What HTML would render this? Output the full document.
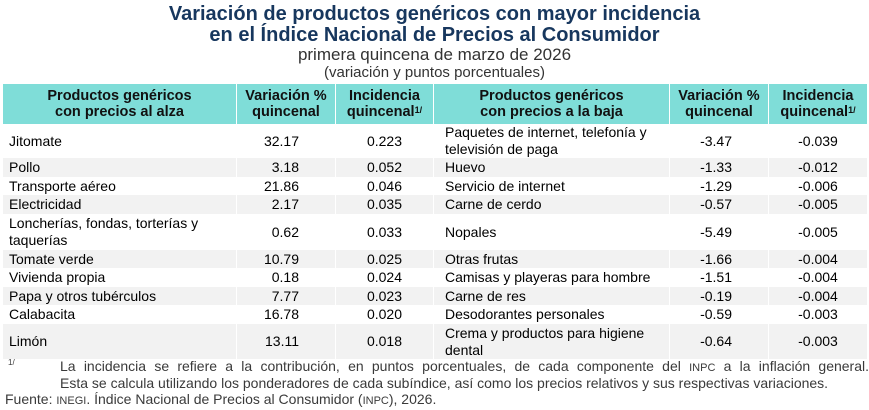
<!DOCTYPE html>
<html>
<head>
<meta charset="utf-8">
<style>
  html, body { margin:0; padding:0; }
  body { width:869px; height:408px; position:relative; overflow:hidden; background:#fff;
         font-family:"Liberation Sans", Arial, sans-serif; color:#000; }
  .t { position:absolute; left:0; width:869px; text-align:center; white-space:nowrap; }
  #title { top:4px; font-size:20px; line-height:21px; font-weight:bold; color:#17375e; }
  #sub1 { top:45px; font-size:17px; line-height:20px; color:#333; }
  #sub2 { top:64px; font-size:15px; line-height:18px; color:#333; }
  table { position:absolute; left:2px; top:84px; border-collapse:collapse; table-layout:fixed; width:865px; }
  td, th { padding:0; font-size:14px; line-height:17px; border-left:1px solid #fff; border-right:1px solid #fff; overflow:hidden; }
  th { background:#7fddd8; font-weight:bold; height:40px; line-height:16px; font-size:14.5px; text-align:center; color:#111; }
  th sup { font-size:9px; vertical-align:top; position:relative; top:-2px; }
  tr.g td { background:#f2f2f2; }
  td.n1 { padding-left:6px; text-align:left; }
  td.n2 { padding-left:11px; text-align:left; }
  td.v { text-align:right; padding-right:36px; }
  td.c { text-align:center; }
  .fn { position:absolute; font-size:14px; line-height:17px; color:#3a3a3a; white-space:nowrap; }
  .sc { font-size:11px; }
</style>
</head>
<body>
<div class="t" id="title">Variación de productos genéricos con mayor incidencia<br>en el Índice Nacional de Precios al Consumidor</div>
<div class="t" id="sub1">primera quincena de marzo de 2026</div>
<div class="t" id="sub2">(variación y puntos porcentuales)</div>

<table>
  <colgroup>
    <col style="width:234px"><col style="width:99px"><col style="width:98px">
    <col style="width:236px"><col style="width:99px"><col style="width:99px">
  </colgroup>
  <tr>
    <th>Productos genéricos<br>con precios al alza</th>
    <th>Variación %<br>quincenal</th>
    <th>Incidencia<br>quincenal<sup>1/</sup></th>
    <th>Productos genéricos<br>con precios a la baja</th>
    <th>Variación %<br>quincenal</th>
    <th>Incidencia<br>quincenal<sup>1/</sup></th>
  </tr>
  <tr style="height:34px">
    <td class="n1">Jitomate</td><td class="v">32.17</td><td class="c">0.223</td>
    <td class="n2">Paquetes de internet, telefonía y<br>televisión de paga</td><td class="v">-3.47</td><td class="c">-0.039</td>
  </tr>
  <tr class="g" style="height:19px">
    <td class="n1">Pollo</td><td class="v">3.18</td><td class="c">0.052</td>
    <td class="n2">Huevo</td><td class="v">-1.33</td><td class="c">-0.012</td>
  </tr>
  <tr style="height:18px">
    <td class="n1">Transporte aéreo</td><td class="v">21.86</td><td class="c">0.046</td>
    <td class="n2">Servicio de internet</td><td class="v">-1.29</td><td class="c">-0.006</td>
  </tr>
  <tr class="g" style="height:19px">
    <td class="n1">Electricidad</td><td class="v">2.17</td><td class="c">0.035</td>
    <td class="n2">Carne de cerdo</td><td class="v">-0.57</td><td class="c">-0.005</td>
  </tr>
  <tr style="height:36px">
    <td class="n1">Loncherías, fondas, torterías y<br>taquerías</td><td class="v">0.62</td><td class="c">0.033</td>
    <td class="n2">Nopales</td><td class="v">-5.49</td><td class="c">-0.005</td>
  </tr>
  <tr class="g" style="height:18px">
    <td class="n1">Tomate verde</td><td class="v">10.79</td><td class="c">0.025</td>
    <td class="n2">Otras frutas</td><td class="v">-1.66</td><td class="c">-0.004</td>
  </tr>
  <tr style="height:19px">
    <td class="n1">Vivienda propia</td><td class="v">0.18</td><td class="c">0.024</td>
    <td class="n2">Camisas y playeras para hombre</td><td class="v">-1.51</td><td class="c">-0.004</td>
  </tr>
  <tr class="g" style="height:18px">
    <td class="n1">Papa y otros tubérculos</td><td class="v">7.77</td><td class="c">0.023</td>
    <td class="n2">Carne de res</td><td class="v">-0.19</td><td class="c">-0.004</td>
  </tr>
  <tr style="height:19px">
    <td class="n1">Calabacita</td><td class="v">16.78</td><td class="c">0.020</td>
    <td class="n2">Desodorantes personales</td><td class="v">-0.59</td><td class="c">-0.003</td>
  </tr>
  <tr class="g" style="height:35px">
    <td class="n1">Limón</td><td class="v">13.11</td><td class="c">0.018</td>
    <td class="n2">Crema y productos para higiene<br>dental</td><td class="v">-0.64</td><td class="c">-0.003</td>
  </tr>
</table>

<div class="fn" style="left:8px; top:358px; font-size:8px; line-height:10px;">1/</div>
<div class="fn" style="left:60px; top:358px; width:809px; text-align:justify; text-align-last:justify;">La incidencia se refiere a la contribución, en puntos porcentuales, de cada componente del <span class="sc">INPC</span> a la inflación general.</div>
<div class="fn" style="left:60px; top:375px;">Esta se calcula utilizando los ponderadores de cada subíndice, así como los precios relativos y sus respectivas variaciones.</div>
<div class="fn" style="left:5px; top:391px;">Fuente: <span class="sc">INEGI</span>. Índice Nacional de Precios al Consumidor (<span class="sc">INPC</span>), 2026.</div>
</body>
</html>
